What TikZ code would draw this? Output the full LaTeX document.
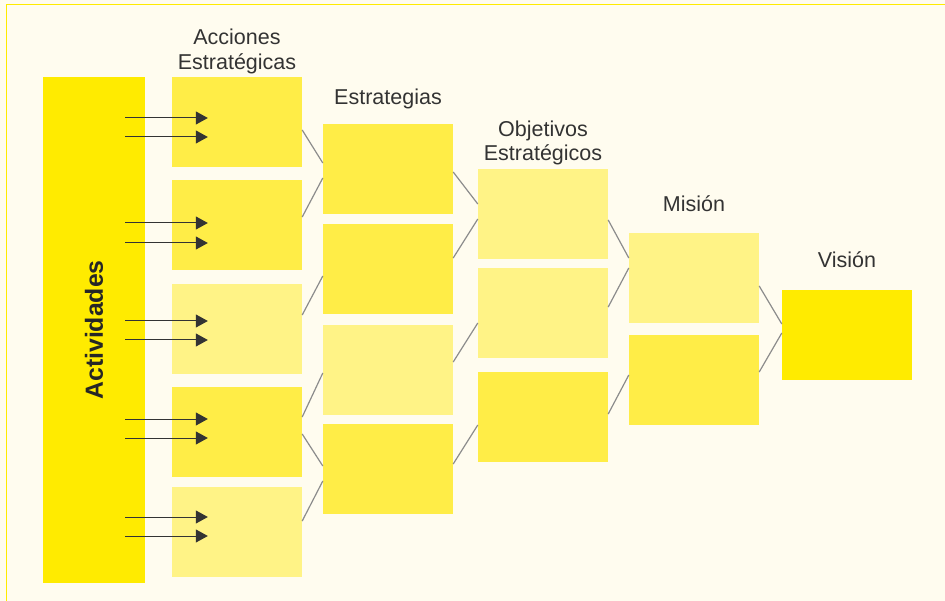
\documentclass[tikz,border=0pt]{standalone}
\usepackage{fontspec}
\setmainfont{Liberation Sans}
\usetikzlibrary{arrows.meta,positioning}
\definecolor{paper}{HTML}{FFFCEF}
\definecolor{gold}{HTML}{FFEB00}
\definecolor{midy}{HTML}{FFED47}
\definecolor{pale}{HTML}{FFF386}
\definecolor{ink}{HTML}{333333}
\definecolor{wire}{HTML}{8C8C8C}
\begin{document}
\begin{tikzpicture}[x=1pt,y=-1pt,box/.style={shape=rectangle,minimum width=130pt,minimum height=90pt,inner sep=0pt,fill=midy},boxL/.style={box,fill=pale},boxG/.style={box,fill=gold},lbl/.style={inner sep=0pt,align=center,text=ink,font=\fontsize{21.5}{24.5}\selectfont},link/.style={draw=wire,line width=1.2pt},arr/.style={draw=ink,line width=1pt,-{Triangle[length=12pt,width=13pt]}}]
\fill[paper] (0,0) rectangle (945,601);
\useasboundingbox (0,0) rectangle (945,601);
\draw[gold,line width=1.5pt] (6.5,601) -- (6.5,4.5) -- (945,4.5);

\node[boxG,minimum width=102pt,minimum height=506pt] (act) at (94,330) {};
\node[rotate=90,inner sep=0pt,text=black!85,font=\bfseries\fontsize{24.8}{28}\selectfont] (actT) at (act.center) {Actividades};

\node[box] (acc1) at (237,122) {};
\node[box] (acc2) at (237,225) {};
\node[boxL] (acc3) at (237,329) {};
\node[box] (acc4) at (237,432) {};
\node[boxL] (acc5) at (237,532) {};
\node[lbl,above=3pt of acc1] (accT) {Acciones\\Estratégicas};

\foreach \i/\ya/\yb in {1/118/137,2/223/243,3/321/340,4/419/438,5/517/536}{
\draw[arr] ([xshift=-20pt]act.east |- 0,\ya) -- ([xshift=36pt]acc\i.west |- 0,\ya);
\draw[arr] ([xshift=-20pt]act.east |- 0,\yb) -- ([xshift=36pt]acc\i.west |- 0,\yb);
}

\node[box] (estr1) at (388,169) {};
\draw[link] ([yshift=-8pt]acc1.east) -- ([yshift=6pt]estr1.west);
\draw[link] ([yshift=8pt]acc2.east) -- ([yshift=-9pt]estr1.west);
\node[box] (estr2) at (388,269) {};
\draw[link] ([yshift=14pt]acc3.east) -- ([yshift=-7pt]estr2.west);
\node[boxL] (estr3) at (388,370) {};
\draw[link] ([yshift=15pt]acc4.east) -- ([yshift=-3pt]estr3.west);
\node[box] (estr4) at (388,469) {};
\draw[link] ([yshift=-2pt]acc4.east) -- ([yshift=3pt]estr4.west);
\draw[link] ([yshift=11pt]acc5.east) -- ([yshift=-12pt]estr4.west);
\node[lbl,above=14.5pt of estr1] (estrT) {Estrategias};

\node[boxL] (obj1) at (543,214) {};
\draw[link] ([yshift=-3pt]estr1.east) -- ([yshift=10pt]obj1.west);
\draw[link] ([yshift=11pt]estr2.east) -- ([yshift=-5pt]obj1.west);
\node[boxL] (obj2) at (543,313) {};
\draw[link] ([yshift=8pt]estr3.east) -- ([yshift=-10pt]obj2.west);
\node[box] (obj3) at (543,417) {};
\draw[link] ([yshift=5pt]estr4.east) -- ([yshift=-8pt]obj3.west);
\node[lbl,above=3.5pt of obj1] (objT) {Objetivos\\Estratégicos};

\node[boxL] (mis1) at (694,278) {};
\draw[link] ([yshift=-6pt]obj1.east) -- ([yshift=20pt]mis1.west);
\draw[link] ([yshift=6pt]obj2.east) -- ([yshift=10pt]mis1.west);
\node[box] (mis2) at (694,380) {};
\draw[link] ([yshift=3pt]obj3.east) -- ([yshift=5pt]mis2.west);
\node[lbl,above=21pt of mis1] (misT) {Misión};

\node[boxG] (vis) at (847,335) {};
\draw[link] ([yshift=-8pt]mis1.east) -- ([yshift=11pt]vis.west);
\draw[link] ([yshift=8pt]mis2.east) -- ([yshift=2pt]vis.west);
\node[lbl,above=22pt of vis] (visT) {Visión};
\end{tikzpicture}
\end{document}
